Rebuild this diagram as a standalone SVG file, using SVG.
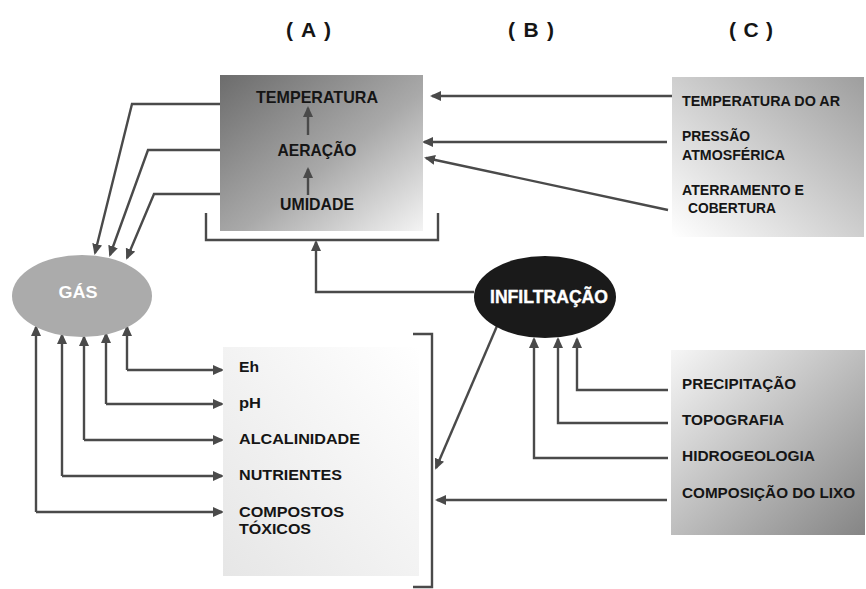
<svg xmlns="http://www.w3.org/2000/svg" width="866" height="589" viewBox="0 0 866 589">
  <style>
    text { font-family: "Liberation Sans", Arial, sans-serif; font-weight: bold; fill: #151515; }
    .hdr { font-size: 21px; }
    .a { font-size: 16.5px; text-anchor: middle; }
    .s { font-size: 14.5px; }
    .b { font-size: 15.5px; }
    .w { fill: #ffffff; text-anchor: middle; }
    .ln { fill: none; stroke: #4a4a4a; stroke-width: 2.4; marker-end: url(#ah); }
    .br { fill: none; stroke: #4a4a4a; stroke-width: 2.4; }
  </style>
  <defs>
    <marker id="ah" markerUnits="userSpaceOnUse" markerWidth="11" markerHeight="11" viewBox="0 0 11 11" refX="9" refY="5.5" orient="auto">
      <path d="M0,0.5 L11,5.5 L0,10.5 z" fill="#4a4a4a"/>
    </marker>
    <linearGradient id="gA" x1="0" y1="0" x2="1" y2="1">
      <stop offset="0" stop-color="#6c6c6c"/>
      <stop offset="0.55" stop-color="#a9a9a9"/>
      <stop offset="1" stop-color="#f4f4f4"/>
    </linearGradient>
    <linearGradient id="gC" x1="0" y1="1" x2="1" y2="0">
      <stop offset="0" stop-color="#ffffff"/>
      <stop offset="1" stop-color="#9e9e9e"/>
    </linearGradient>
    <linearGradient id="gB" x1="0" y1="1" x2="1" y2="0">
      <stop offset="0" stop-color="#e6e6e6"/>
      <stop offset="1" stop-color="#ffffff"/>
    </linearGradient>
    <linearGradient id="gD" x1="0" y1="0" x2="1" y2="1">
      <stop offset="0" stop-color="#f6f6f6"/>
      <stop offset="1" stop-color="#858585"/>
    </linearGradient>
  </defs>

  <!-- column headings -->
  <g id="headings">
    <text class="hdr" x="286" y="37" textLength="45" lengthAdjust="spacing">( A )</text>
    <text class="hdr" x="508" y="37" textLength="46" lengthAdjust="spacing">( B )</text>
    <text class="hdr" x="729" y="37" textLength="44" lengthAdjust="spacing">( C )</text>
  </g>

  <!-- connectors -->
  <g id="connectors">
    <!-- box A to GÁS -->
    <path class="ln" d="M220,104 H132 L95,253"/>
    <path class="ln" d="M220,150 H148 L110,255"/>
    <path class="ln" d="M220,194 H154 L127,258"/>
    <!-- bracket under box A, fed by INFILTRAÇÃO -->
    <path class="br" d="M206,213 V240 H438 V213"/>
    <path class="ln" d="M474,292 H316 V242"/>
    <!-- box C to box A -->
    <path class="ln" d="M672,96 H432"/>
    <path class="ln" d="M667,142 H424"/>
    <path class="ln" d="M668,210 L426,158"/>
    <!-- GÁS <-> lower factors -->
    <path class="ln" d="M127,370 V327"/>
    <path class="ln" d="M127,370 H222"/>
    <path class="ln" d="M106,404 V334"/>
    <path class="ln" d="M106,404 H222"/>
    <path class="ln" d="M84,440 V337"/>
    <path class="ln" d="M84,440 H222"/>
    <path class="ln" d="M62,476 V335"/>
    <path class="ln" d="M62,476 H222"/>
    <path class="ln" d="M36,512 V327"/>
    <path class="ln" d="M36,512 H222"/>
    <!-- bracket beside box B, fed by INFILTRAÇÃO and the waste composition -->
    <path class="br" d="M413,334 H432 V587 H413"/>
    <path class="ln" d="M497,326 L436,468"/>
    <path class="ln" d="M667,500 H437"/>
    <!-- box D to INFILTRAÇÃO -->
    <path class="ln" d="M668,390 H577 V339"/>
    <path class="ln" d="M668,423 H558 V339"/>
    <path class="ln" d="M668,458 H534 V339"/>
  </g>

  <!-- box A: heat / aeration / humidity -->
  <g id="boxA">
    <rect x="220" y="75" width="203" height="156" fill="url(#gA)"/>
    <text class="a" x="317" y="103" textLength="122" lengthAdjust="spacingAndGlyphs">TEMPERATURA</text>
    <text class="a" x="317" y="156" textLength="79" lengthAdjust="spacingAndGlyphs">AERAÇÃO</text>
    <text class="a" x="317" y="210" textLength="74" lengthAdjust="spacingAndGlyphs">UMIDADE</text>
    <path class="ln" d="M308,135 V108"/>
    <path class="ln" d="M308,195 V169"/>
  </g>

  <!-- box C: external factors -->
  <g id="boxC">
    <rect x="672" y="77" width="192" height="160" fill="url(#gC)"/>
    <text class="s" x="682" y="106" textLength="158" lengthAdjust="spacingAndGlyphs">TEMPERATURA DO AR</text>
    <text class="s" x="682" y="141" textLength="68" lengthAdjust="spacingAndGlyphs">PRESSÃO</text>
    <text class="s" x="682" y="160" textLength="103" lengthAdjust="spacingAndGlyphs">ATMOSFÉRICA</text>
    <text class="s" x="682" y="195" textLength="122" lengthAdjust="spacingAndGlyphs">ATERRAMENTO E</text>
    <text class="s" x="688" y="213" textLength="88" lengthAdjust="spacingAndGlyphs">COBERTURA</text>
  </g>

  <!-- GÁS -->
  <g id="gas">
    <ellipse cx="82" cy="296" rx="70" ry="41" fill="#ababab"/>
    <text class="w" x="78" y="298" font-size="17" textLength="39" lengthAdjust="spacingAndGlyphs">GÁS</text>
  </g>

  <!-- INFILTRAÇÃO -->
  <g id="infiltracao">
    <ellipse cx="545" cy="297" rx="71" ry="41" fill="#1a1a1a"/>
    <text class="w" x="549" y="303" font-size="18.5" textLength="118" lengthAdjust="spacingAndGlyphs" stroke="#ffffff" stroke-width="0.4">INFILTRAÇÃO</text>
  </g>

  <!-- box B: chemical parameters -->
  <g id="boxB">
    <rect x="223" y="347" width="196" height="229" fill="url(#gB)"/>
    <text class="b" x="239" y="372" textLength="20" lengthAdjust="spacingAndGlyphs">Eh</text>
    <text class="b" x="239" y="408" textLength="22" lengthAdjust="spacingAndGlyphs">pH</text>
    <text class="b" x="239" y="444" textLength="121" lengthAdjust="spacingAndGlyphs">ALCALINIDADE</text>
    <text class="b" x="239" y="480" textLength="103" lengthAdjust="spacingAndGlyphs">NUTRIENTES</text>
    <text class="b" x="239" y="517" textLength="105" lengthAdjust="spacingAndGlyphs">COMPOSTOS</text>
    <text class="b" x="239" y="534" textLength="72" lengthAdjust="spacingAndGlyphs">TÓXICOS</text>
  </g>

  <!-- box D: infiltration factors -->
  <g id="boxD">
    <rect x="671" y="350" width="194" height="185" fill="url(#gD)"/>
    <text class="s" x="682" y="389" textLength="114" lengthAdjust="spacingAndGlyphs">PRECIPITAÇÃO</text>
    <text class="s" x="682" y="425" textLength="102" lengthAdjust="spacingAndGlyphs">TOPOGRAFIA</text>
    <text class="s" x="682" y="461" textLength="133" lengthAdjust="spacingAndGlyphs">HIDROGEOLOGIA</text>
    <text class="s" x="682" y="498" textLength="173" lengthAdjust="spacingAndGlyphs">COMPOSIÇÃO DO LIXO</text>
  </g>
</svg>
